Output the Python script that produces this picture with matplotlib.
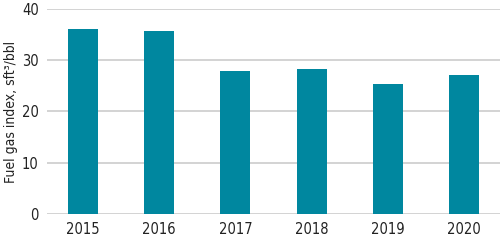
import matplotlib.pyplot as plt

years = ["2015", "2016", "2017", "2018", "2019", "2020"]
fuel_gas = [36.1, 35.7, 27.9, 28.3, 25.4, 27.1]
yticks = [0, 10, 20, 30, 40]

plt.rcParams['font.family'] = ['Liberation Sans Narrow', 'DejaVu Sans']
plt.rcParams['font.stretch'] = 'condensed'

fig = plt.figure(figsize=(5, 2.48), dpi=100)
ax = fig.add_axes([0.094, 0.137, 0.906, 0.827])

ax.bar(range(len(years)), fuel_gas, width=0.39, color='#00879f', zorder=3)
ax.set_xlim(-0.47, len(years) - 0.53)
ax.set_ylim(0, 40)
ax.set_yticks(yticks)
ax.set_xticks(range(len(years)))
ax.set_xticklabels(years)
ax.grid(axis='y', color='#cccccc', linewidth=1.2, zorder=0)
for s in ax.spines.values():
    s.set_visible(False)
ax.tick_params(length=0, labelsize=10.5, colors='#222222', pad=6)
ax.set_ylabel("Fuel gas index, sft³/bbl", fontsize=10, color='#222222', labelpad=3)

fig.savefig("out.png", dpi=100)
